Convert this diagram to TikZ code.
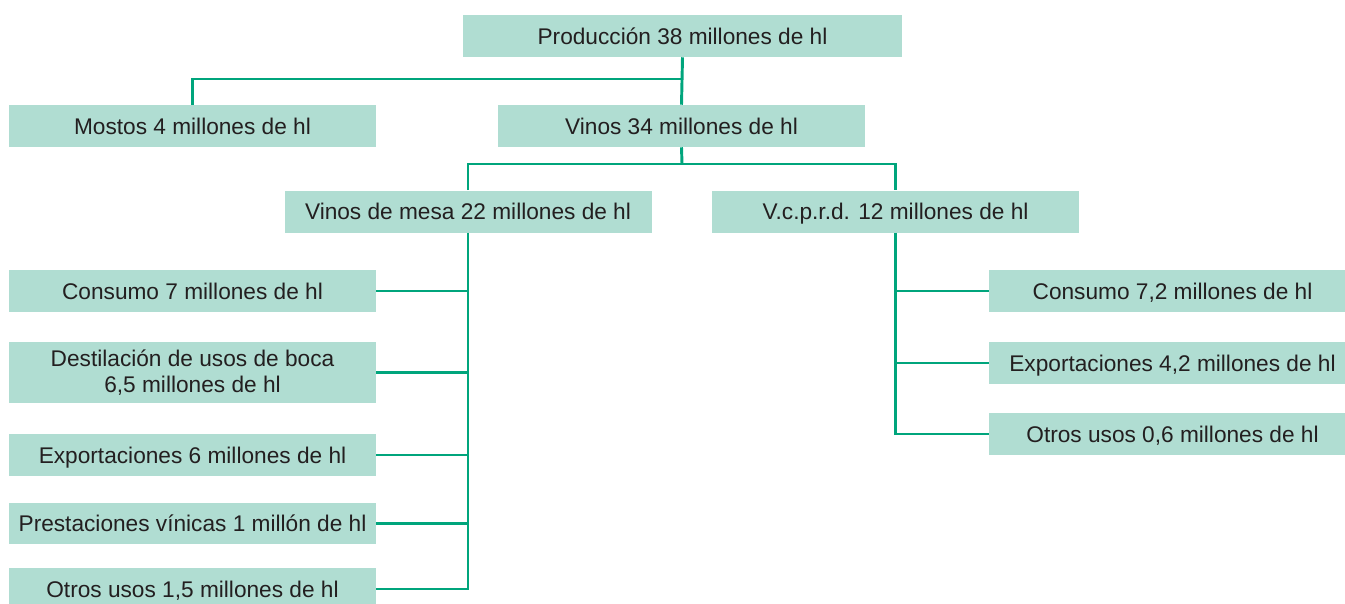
\documentclass[tikz,border=0pt]{standalone}
\usepackage{fontspec}
\setmainfont{Liberation Sans}
\definecolor{cajaverde}{HTML}{B0DDD2}
\definecolor{lineaverde}{HTML}{00A57C}
\definecolor{texto}{HTML}{231F20}
\begin{document}
\begin{tikzpicture}[x=0.75pt,y=-0.75pt,
  caja/.style={fill=cajaverde, inner sep=0pt, text=texto, align=center,
    minimum width=275.25pt, minimum height=31.5pt,
    text height=12.2pt, text depth=0pt,
    font=\fontsize{17}{20}\selectfont},
  linea/.style={draw=lineaverde, line width=2.2pt}]
\useasboundingbox (0,0) rectangle (1345,603);

\node[caja, minimum width=329.25pt] (prod) at (682.5,36) {Producción 38 millones de hl};
\node[caja] (mostos) at (192.5,126) {Mostos 4 millones de hl};
\node[caja] (vinos) at (681.5,126) {Vinos 34 millones de hl};
\node[caja] (mesa) at (468,211.5) {Vinos de mesa 22 millones de hl};
\node[caja] (vcprd) at (895.5,211.5) {V.c.p.r.d. 12 millones de hl};

% vinos de mesa
\node[caja, text height=, text depth=] (consumoA) at (192.5,291) {Consumo 7 millones de hl};
\node[caja, minimum height=45.75pt, text height=, text depth=] (destil) at (192.5,372.5) {Destilación de usos de boca\\6,5 millones de hl};
\node[caja] (exportA) at (192.5,455) {Exportaciones 6 millones de hl};
\node[caja, minimum height=30.75pt] (prest) at (192.5,523.5) {Prestaciones vínicas 1 millón de hl};
\node[caja] (otrosA) at (192.5,589) {Otros usos 1,5 millones de hl};

% v.c.p.r.d.
\node[caja] (consumoB) at (1172.5,291) {Consumo 7,2 millones de hl};
\node[caja] (exportB) at (1172.5,363) {Exportaciones 4,2 millones de hl};
\node[caja] (otrosB) at (1172.5,434) {Otros usos 0,6 millones de hl};

\coordinate (j1) at (682,79);
\coordinate (j2) at (682,164);

\draw[linea] (prod.south) -- (vinos.north);
\draw[linea] (j1) -| (mostos.north);
\draw[linea] (vinos.south) -- (j2);
\draw[linea] (mesa.north) |- (j2) -| (vcprd.north);

\draw[linea] (mesa.south) |- (otrosA.east);
\foreach \n in {consumoA,destil,exportA,prest}
  \draw[linea] (\n.east) -- (\n.east -| mesa.south);

\draw[linea] (vcprd.south) |- (otrosB.west);
\foreach \n in {consumoB,exportB}
  \draw[linea] (\n.west) -- (\n.west -| vcprd.south);
\end{tikzpicture}
\end{document}
